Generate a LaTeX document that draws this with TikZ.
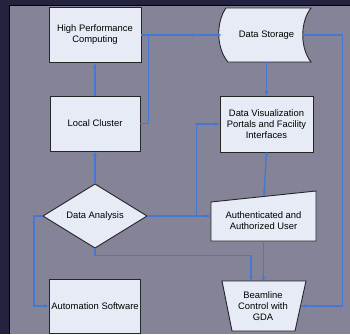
\documentclass[tikz,border=0pt]{standalone}
\usepackage{fontspec}
\setmainfont{Liberation Sans}
\usetikzlibrary{arrows.meta}
\definecolor{navy}{RGB}{35,34,63}
\definecolor{panel}{RGB}{132,131,152}
\definecolor{boxfill}{RGB}{230,235,245}
\definecolor{linkblue}{RGB}{70,120,210}
\begin{document}
\begin{tikzpicture}[x=1pt,y=-1pt, font=\fontsize{9.4}{11}\selectfont,
  box/.style={draw=black!85, line width=0.9pt, fill=boxfill},
  rbox/.style={box, align=center, inner sep=0pt},
  lbl/.style={align=center, inner sep=0pt},
  link/.style={draw=linkblue, line width=1.4pt, -{Latex[length=4.5pt,width=4pt]}}]
\useasboundingbox (0,0) rectangle (350,334);
\fill[navy] (0,0) rectangle (350,334);
\fill[panel] (9,6) rectangle (350,334);
\draw[black, line width=1pt] (9,334) -- (9,6) -- (350,6);

% rectangles
\node[rbox, minimum width=92pt, minimum height=55pt] (hpc) at (95,35) {High Performance\\Computing};
\node[rbox, minimum width=90pt, minimum height=55pt] (lc) at (95,123.5) {Local Cluster};
\node[rbox, minimum width=93pt, minimum height=56pt] (dv) at (266.5,124) {Data Visualization\\Portals and Facility\\Interfaces};
\node[rbox, minimum width=91pt, minimum height=54pt] (as) at (95,306) {Automation Software};

% data storage
\filldraw[box] (226,8) -- (311,8) .. controls (300,22) and (300,48) .. (311,62) -- (228,62) .. controls (216,48) and (216,22) .. (226,8) -- cycle;
\node[lbl, minimum width=89pt, minimum height=54pt] (ds) at (266.5,35) {Data Storage};

% authenticated user (manual input)
\filldraw[box] (211,202) -- (316,191) -- (316,241) -- (211,241) -- cycle;
\node[lbl, minimum width=105pt, minimum height=40pt] (au) at (263.5,221) {Authenticated and\\Authorized User};
\coordinate (aut) at (264,196);

% beamline (trapezoid)
\filldraw[box] (222,281) -- (306,281) -- (295,331) -- (232,331) -- cycle;
\node[lbl] (bl) at (263,306) {Beamline\\Control with\\GDA};
\coordinate (blr) at (300.5,306);
\coordinate (blt) at (263.5,281);
\coordinate (blt2) at (251,281);

% data analysis (diamond)
\filldraw[box] (95,184) -- (147,216) -- (95,248) -- (43,216) -- cycle;
\node[lbl, minimum width=104pt, minimum height=64pt] (da) at (95,216) {Data Analysis};

\coordinate (mid) at (197,35);

% connectors
\draw[link] (lc.north) -- (hpc.south);
\draw[link] (da.north) -- (lc.south);
\draw[link] (hpc.east) -- (mid);
\draw[link] (lc.east) -- ++(8,0) |- (ds.west);
\draw[link] (ds.south) -- (dv.north);
\draw[link] ([xshift=-7pt]ds.east) -- ++(38,0) |- (blr);
\draw[link] (da.east) -- (au.west |- da.east);
\draw[link] (da.east) -- ++(49,0) |- (dv.west);
\draw[link] (dv.south) -- (aut);
\draw[link] (au.south) -- (blt);
\draw[link] (da.south) -- ++(0,7.5) -| (blt2);
\draw[link] (da.west) -- ++(-9,0) |- (as.west);
\end{tikzpicture}
\end{document}
